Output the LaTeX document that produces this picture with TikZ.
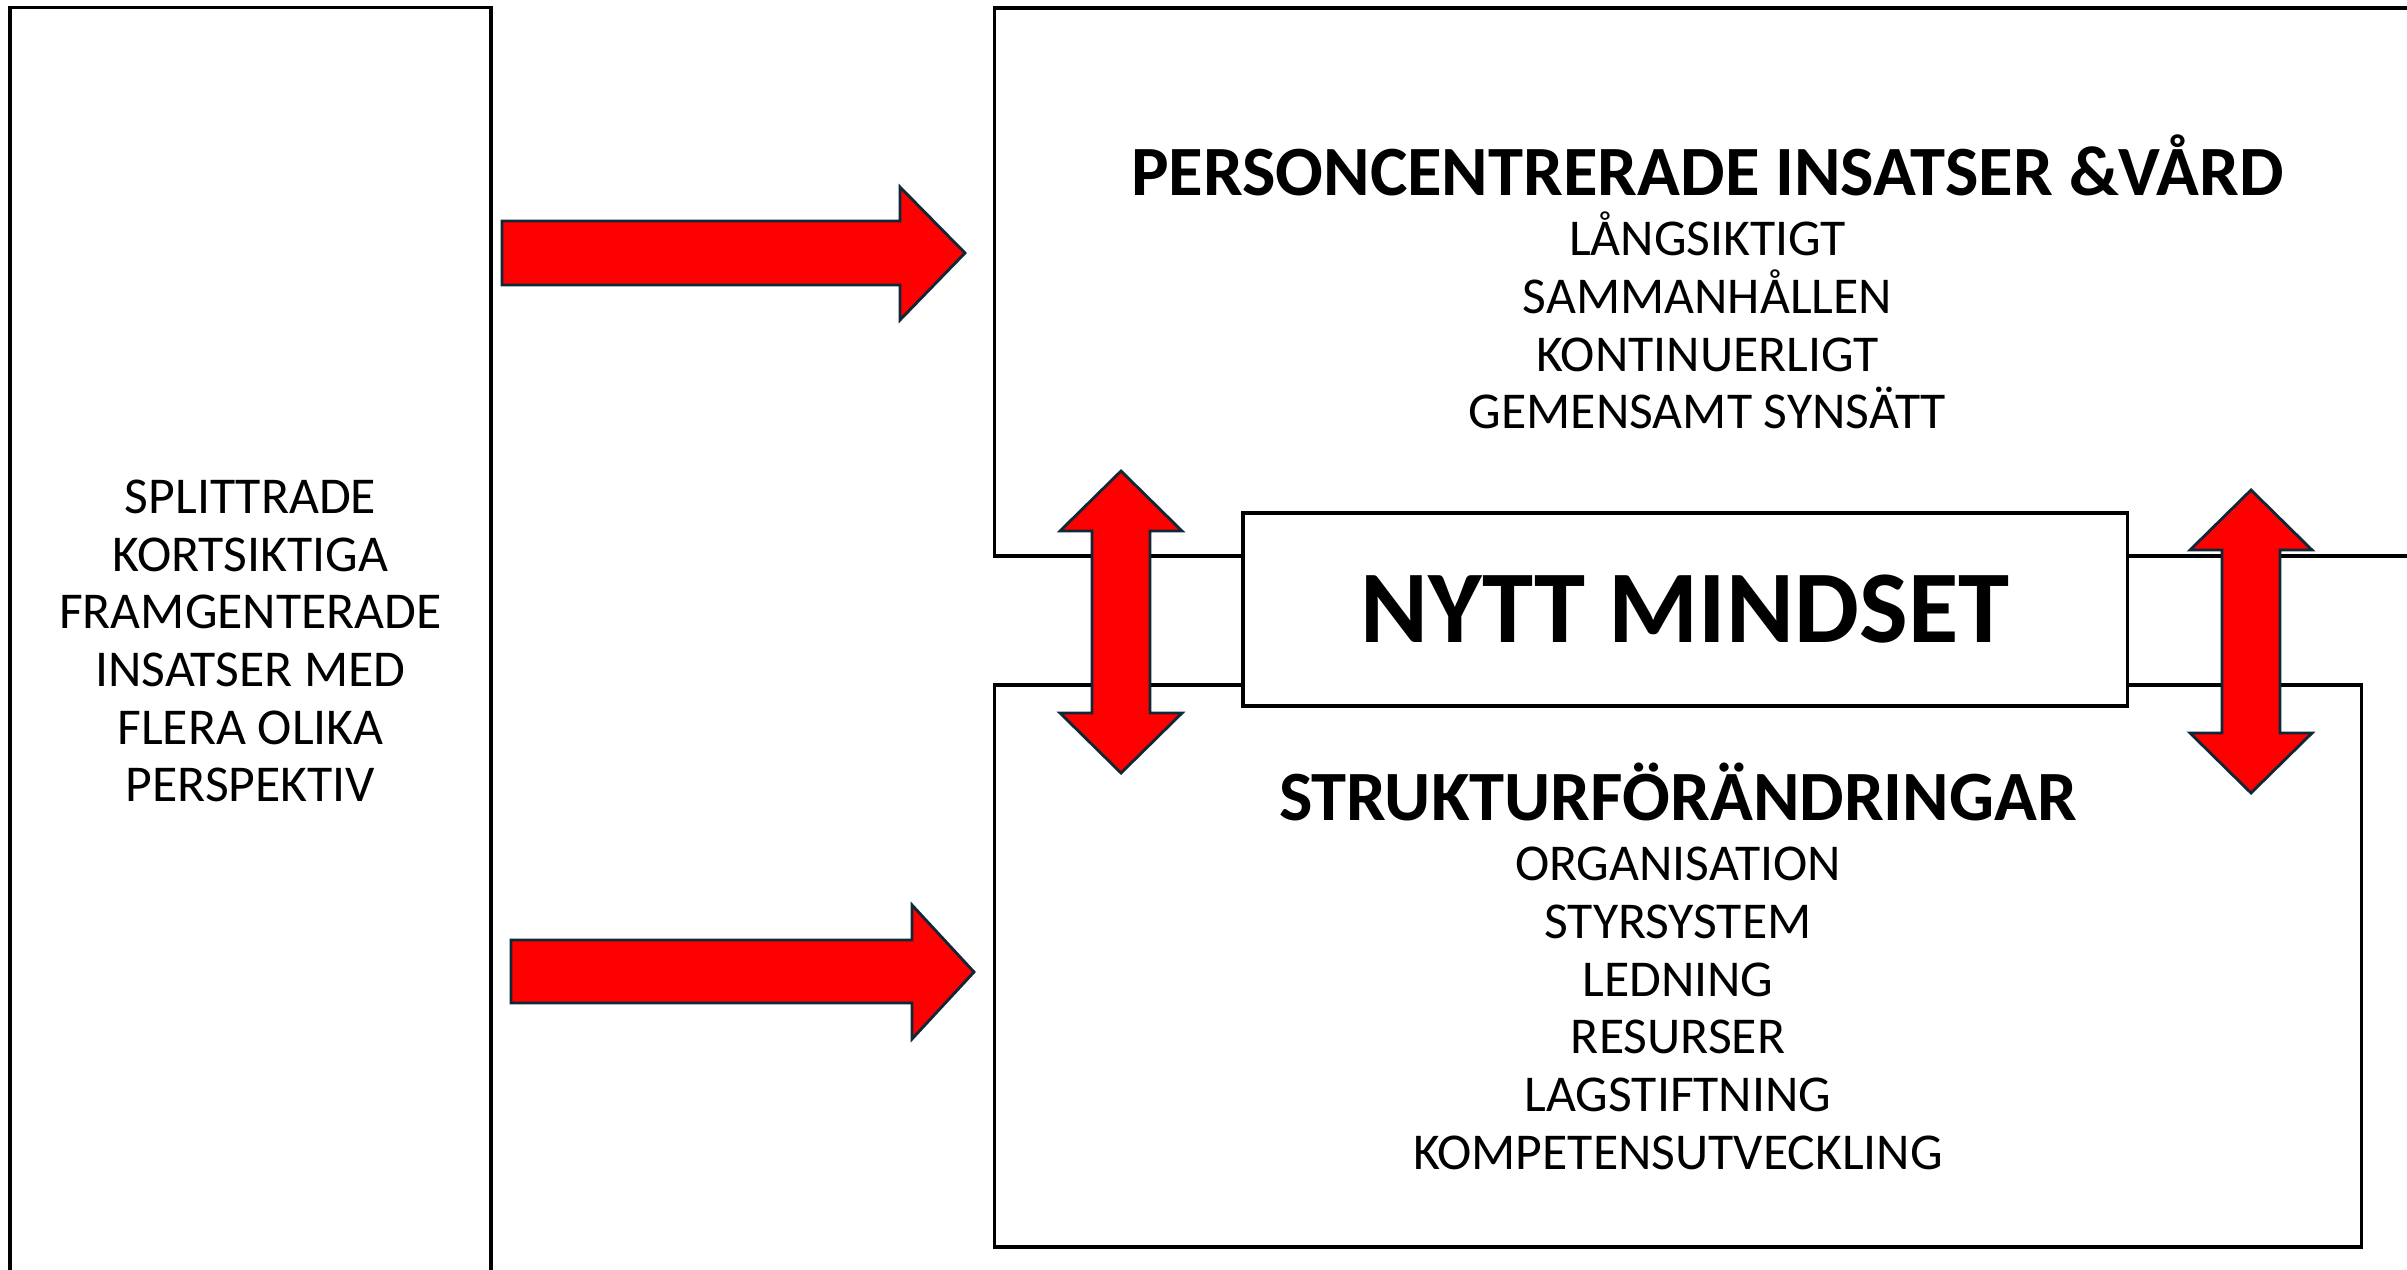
\documentclass[tikz,border=0pt]{standalone}
\usepackage{fontspec}
\setmainfont{Carlito}
\usepackage{tikz}
\usetikzlibrary{positioning}
\definecolor{cRed}{RGB}{255,0,0}
\definecolor{cNavy}{RGB}{14,40,55}
\tikzset{
	panel/.style     ={rectangle, draw=black, line width=1pt, fill=white, align=center, inner sep=0pt, font=\fontsize{14.7pt}{16.4pt}\selectfont},
	mindbox/.style   ={rectangle, draw=black, line width=1pt, fill=white, minimum width=8.84cm, minimum height=1.93cm, font=\fontsize{29.3pt}{34pt}\selectfont\bfseries},
	blockarrow/.style={fill=cRed, draw=cNavy, line width=0.8pt, line join=miter},
}
\newcommand{\paneltitle}[1]{{\fontsize{20.1pt}{20.1pt}\selectfont\bfseries #1}\\[0.8pt]}

\begin{document}
\begin{tikzpicture}[x=0.01cm, y=-0.01cm]
	\useasboundingbox (0,0) rectangle (2407,1269);
	\node[panel, minimum width=4.81cm, minimum height=12.66cm] (split) at (250.5,641) {SPLITTRADE\\KORTSIKTIGA\\FRAMGENTERADE\\INSATSER MED\\FLERA OLIKA\\PERSPEKTIV};
	\node[panel, minimum width=14.25cm, minimum height=5.48cm] (person) at (1707.5,282) {\paneltitle{PERSONCENTRERADE INSATSER \&VÅRD}LÅNGSIKTIGT\\SAMMANHÅLLEN\\KONTINUERLIGT\\GEMENSAMT SYNSÄTT};
	\node[panel, minimum width=13.66cm, minimum height=5.62cm] (struktur) at (1678,966) {\paneltitle{STRUKTURFÖRÄNDRINGAR}ORGANISATION\\STYRSYSTEM\\LEDNING\\RESURSER\\LAGSTIFTNING\\KOMPETENSUTVECKLING};
	\node[mindbox] (mind) at (1685,609.5) {NYTT MINDSET};
	\draw[blockarrow] (502,221) -- (900,221) -- (900,187) -- (965,253) -- (900,320) -- (900,285) -- (502,285) -- cycle;
	\draw[blockarrow] (511,940) -- (912,940) -- (912,905) -- (974,972) -- (912,1039) -- (912,1003) -- (511,1003) -- cycle;
	\foreach \cx/\ty/\by in {1121/471/773, 2251/490/793}
		\draw[blockarrow] (\cx-29,\ty+60) -- (\cx-61,\ty+60) -- (\cx,\ty) -- (\cx+61,\ty+60) -- (\cx+29,\ty+60) -- (\cx+29,\by-60) -- (\cx+61,\by-60) -- (\cx,\by) -- (\cx-61,\by-60) -- (\cx-29,\by-60) -- cycle;
\end{tikzpicture}
\end{document}
